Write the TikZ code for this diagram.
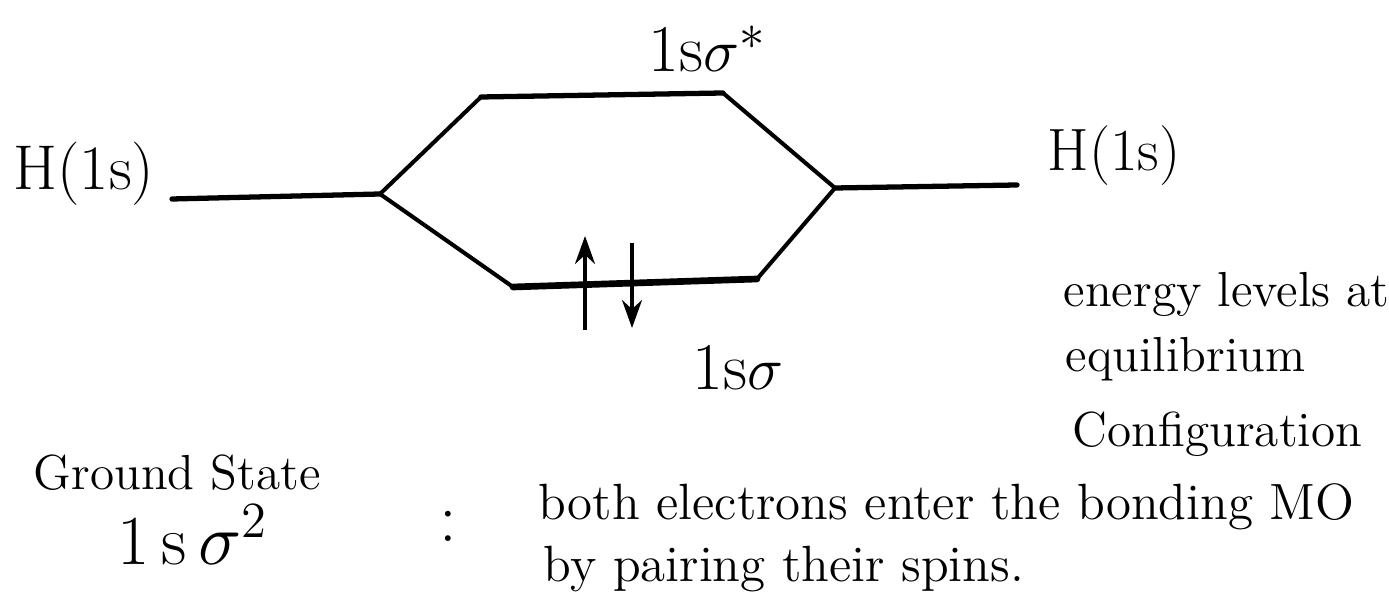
\documentclass[tikz,border=0pt]{standalone}
\usepackage{amsmath}
\usetikzlibrary{arrows.meta,positioning}
\tikzset{
  level/.style={line width=1.5pt,line cap=round},
  link/.style={line width=1.15pt,line cap=round},
  spin/.style={-{Stealth[length=2.8mm,width=2mm]},line width=1pt},
  lbl/.style={inner sep=0pt,anchor=base west},
}
\newcommand{\fsz}[1]{\fontsize{#1}{1.2\dimexpr#1pt\relax}\selectfont}

\begin{document}
\begin{tikzpicture}[x=0.01cm,y=-0.01cm]
\useasboundingbox (0,0) rectangle (1389,598);
% level end points
\coordinate (a1) at (172,199);
\coordinate (a2) at (380,194);
\coordinate (b1) at (835,188);
\coordinate (b2) at (1017,185);
\coordinate (u1) at (481,97);
\coordinate (u2) at (723,93);
\coordinate (d1) at (513,287);
\coordinate (d2) at (757,279);
% levels
\draw[level] (a1)--(a2);
\draw[level] (b1)--(b2);
\draw[level] (u1)--(u2);
\draw[level,line width=1.9pt] (d1)--(d2);
% correlation lines
\draw[link] (a2)--(u1) (u2)--(b1);
\draw[link] (a2)--(d1) (d2)--(b1);
% paired spins
\coordinate (s1) at (585,330); \coordinate (s2) at (585,236);
\coordinate (s3) at (632,243); \coordinate (s4) at (632,328);
\draw[spin] (s1)--(s2);
\draw[spin] (s3)--(s4);
% labels
\node[lbl,font=\fsz{18}] (hA) at (13,190) {H(1s)};
\node[lbl,font=\fsz{17}] (hB) at (1047,171) {H(1s)};
\node[lbl,font=\fsz{19}] (anti) at (648,72) {1s$\sigma^{*}$};
\node[lbl,font=\fsz{19}] (bond) at (692,390) {1s$\sigma$};
\node[lbl,font=\fsz{14}] (note1) at (1063,307) {energy levels at};
\node[lbl,font=\fsz{14}] (note2) at (1065,372) {equilibrium};
\node[lbl,font=\fsz{14}] (note3) at (1072,447) {Configuration};
\node[lbl,font=\fsz{14}] (gs) at (33,490) {Ground State};
\node[lbl,font=\fsz{20}] (cfg) at (117,564) {1\,s\,$\sigma^{2}$};
\node[inner sep=0pt,anchor=base,font=\fsz{20}] (col) at (448,542) {:};
\node[lbl,font=\fsz{14.5}] (txt1) at (538,520) {both electrons enter the bonding MO};
\node[lbl,font=\fsz{14.5}] (txt2) at (543,582) {by pairing their spins.};
\end{tikzpicture}
\end{document}
